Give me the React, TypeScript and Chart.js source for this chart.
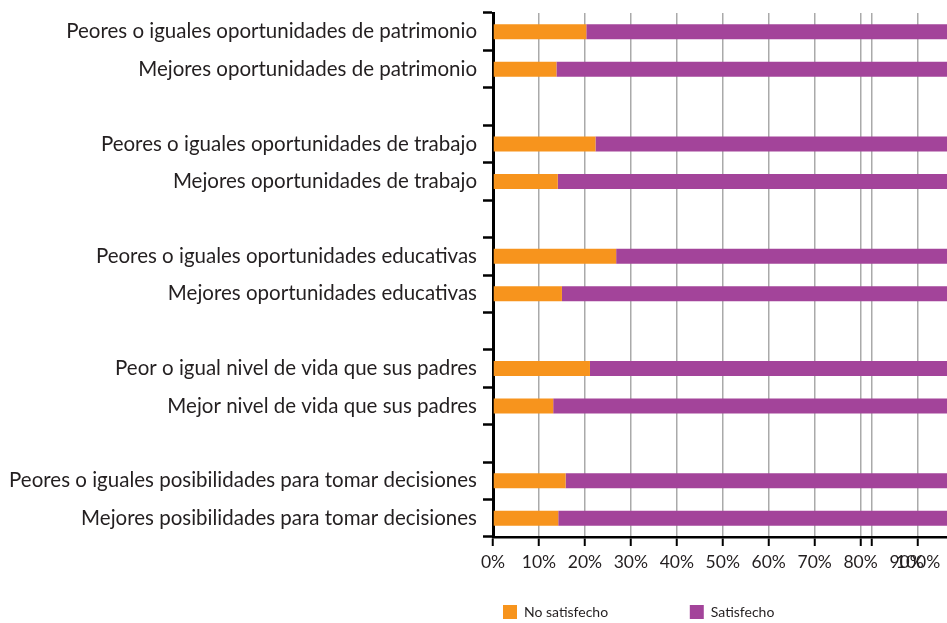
import React, { useEffect, useRef } from "react";
import { Chart, registerables } from "chart.js";

Chart.register(...registerables);

const categories = [
  "Peores o iguales oportunidades de patrimonio",
  "Mejores oportunidades de patrimonio",
  "",
  "Peores o iguales oportunidades de trabajo",
  "Mejores oportunidades de trabajo",
  "",
  "Peores o iguales oportunidades educativas",
  "Mejores oportunidades educativas",
  "",
  "Peor o igual nivel de vida que sus padres",
  "Mejor nivel de vida que sus padres",
  "",
  "Peores o iguales posibilidades para tomar decisiones",
  "Mejores posibilidades para tomar decisiones",
];

const noSatisfecho = [20.3, 13.8, null, 22.3, 14.1, null, 26.8, 15.0, null, 21.1, 13.1, null, 15.8, 14.2];
const satisfecho = [79.7, 86.2, null, 77.7, 85.9, null, 73.2, 85.0, null, 78.9, 86.9, null, 84.2, 85.8];

const seriesNames = ["No satisfecho", "Satisfecho"];

// x-axis tick positions and labels as they appear in the source picture
const xTickValues = [0, 10, 20, 30, 40, 50, 60, 70, 80, 82.5, 90, 92.5];
const xTickLabels = ["0%", "10%", "20%", "30%", "40%", "50%", "60%", "70%", "80%", "", "90%", "100%"];

const ORANGE = "#F7941D";
const PURPLE = "#A3449A";
const TEXT = "#231F20";

export default function App() {
  const ref = useRef<HTMLCanvasElement | null>(null);

  useEffect(() => {
    if (!ref.current) return;
    const chart = new Chart(ref.current, {
      type: "bar",
      data: {
        labels: categories,
        datasets: [
          {
            label: seriesNames[0],
            data: noSatisfecho,
            backgroundColor: ORANGE,
            borderWidth: 0,
            barPercentage: 0.4,
            categoryPercentage: 1,
          },
          {
            label: seriesNames[1],
            data: satisfecho,
            backgroundColor: PURPLE,
            borderWidth: 0,
            barPercentage: 0.4,
            categoryPercentage: 1,
          },
        ],
      },
      options: {
        indexAxis: "y",
        animation: false,
        responsive: false,
        maintainAspectRatio: false,
        layout: { padding: { top: 13, right: 0, left: 0, bottom: -6 } },
        scales: {
          x: {
            stacked: true,
            min: 0,
            max: 98.8,
            afterBuildTicks: (scale: any) => {
              scale.ticks = xTickValues.map((v) => ({ value: v }));
            },
            afterFit: (scale: any) => {
              scale.height = 58;
            },
            ticks: {
              autoSkip: false,
              maxRotation: 0,
              padding: 6,
              color: TEXT,
              font: { family: "Lato", size: 17.5 },
              callback: (value: any) => {
                const i = xTickValues.indexOf(Number(value));
                return i >= 0 ? xTickLabels[i] : "";
              },
            },
            grid: {
              color: (ctx: any) => (ctx.tick && ctx.tick.value === 90 ? "rgba(0,0,0,0)" : "#aaaaaa"),
              tickColor: (ctx: any) => (ctx.tick && ctx.tick.value === 90 ? "rgba(0,0,0,0)" : "#000000"),
              lineWidth: 1.5,
              tickLength: 9,
              tickWidth: 2,
            },
            border: { color: "#000000", width: 2.5 },
          },
          y: {
            stacked: true,
            afterFit: (scale: any) => {
              scale.width = 493;
              scale.paddingTop = 0;
              scale.paddingBottom = 0;
            },
            ticks: {
              autoSkip: false,
              padding: 6,
              color: TEXT,
              font: { family: "Lato", size: 20.5 },
            },
            grid: {
              drawOnChartArea: false,
              offset: true,
              tickLength: 10,
              tickColor: "#000000",
              tickWidth: 2.5,
            },
            border: { color: "#000000", width: 3 },
          },
        },
        plugins: {
          legend: {
            position: "bottom",
            fullSize: false,
            align: "start",
            labels: {
              boxWidth: 14,
              boxHeight: 14,
              padding: 10,
              color: TEXT,
              font: { family: "Lato", size: 14 },
              generateLabels: (c: any) =>
                c.data.datasets.map((ds: any, i: number) => ({
                  text: i === 0 ? ds.label + "                    " : ds.label,
                  fillStyle: ds.backgroundColor,
                  strokeStyle: ds.backgroundColor,
                  lineWidth: 0,
                  hidden: false,
                  datasetIndex: i,
                  fontColor: TEXT,
                })),
            },
          },
          tooltip: { enabled: false },
        },
      },
    });
    return () => chart.destroy();
  }, []);

  return (
    <div style={{ position: "absolute", left: 0, top: 0, width: 947, height: 623, overflow: "hidden", background: "#fff" }}>
      <canvas ref={ref} width={947} height={623} style={{ width: 947, height: 623, display: "block" }} />
    </div>
  );
}
